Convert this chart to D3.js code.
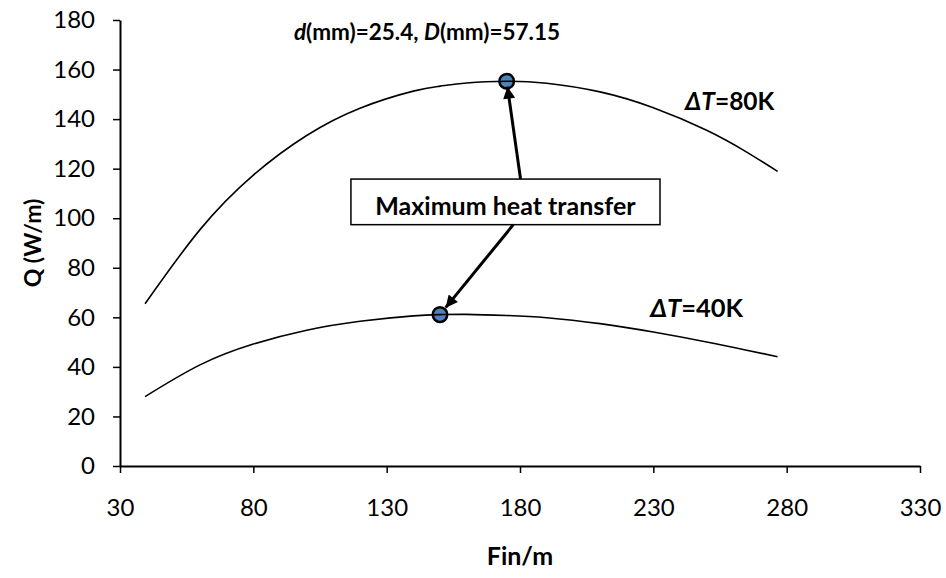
<!DOCTYPE html>
<html>
<head>
<meta charset="utf-8">
<script src="https://cdn.jsdelivr.net/npm/d3@7"></script>
<style>
  html, body { margin: 0; padding: 0; background: #fff; }
  svg { display: block; }
  text { font-family: Lato, "Noto Sans", sans-serif; fill: #000; }
</style>
</head>
<body>
<svg id="chart" width="946" height="578"></svg>
<script>
// Fin density (fins per metre) at which Q was evaluated
const finsPerMetre = [39.4, 60, 80, 100, 120, 140, 150, 160, 175, 190, 210, 230, 250, 265, 276.6];
// Heat transfer rate Q (W/m) for ΔT = 80 K
const q80 = [65.5, 95.4, 117.4, 133.4, 144.4, 151.3, 153.3, 154.6, 155.3, 154.5, 151.0, 144.6, 135.5, 126.7, 118.9];
// Heat transfer rate Q (W/m) for ΔT = 40 K
const q40 = [28, 40.8, 49.2, 54.8, 58.4, 60.6, 61.1, 61.2, 60.75, 59.85, 57.45, 54.05, 50.05, 46.75, 44.1];
// Optimum points (maximum heat transfer)
const optimumFins = [175, 150];
const optimumQ = [155.3, 61.1];
// Axis ticks
const xTicks = [30, 80, 130, 180, 230, 280, 330];
const yTicks = [0, 20, 40, 60, 80, 100, 120, 140, 160, 180];

const svg = d3.select("#chart");
const margin = { left: 120, top: 20, right: 26, bottom: 112 };
const W = 946, H = 578;

const x = d3.scaleLinear().domain([30, 330]).range([margin.left, W - margin.right]);
const y = d3.scaleLinear().domain([0, 180]).range([H - margin.bottom, margin.top]);

// Axes
const yAxis = d3.axisLeft(y).tickValues(yTicks).tickSize(7).tickSizeOuter(0).tickPadding(18);
const xAxis = d3.axisBottom(x).tickValues(xTicks).tickSize(7).tickSizeOuter(0).tickPadding(26);

const gy = svg.append("g").attr("transform", `translate(${x(30)},0)`).call(yAxis);
const gx = svg.append("g").attr("transform", `translate(0,${y(0)})`).call(xAxis);
[gx, gy].forEach(g => {
  g.select(".domain").attr("stroke", "#000").attr("stroke-width", 2);
  g.selectAll(".tick line").attr("stroke", "#000").attr("stroke-width", 1.5);
  g.selectAll(".tick text").attr("font-size", 24).attr("font-family", "Lato, 'Noto Sans', sans-serif").attr("fill", "#000");
});

// Axis titles
svg.append("text")
  .attr("x", (x(30) + x(330)) / 2).attr("y", 565)
  .attr("text-anchor", "middle").attr("font-size", 25).attr("font-weight", "bold")
  .text("Fin/m");
svg.append("text")
  .attr("transform", `translate(41,${(y(0) + y(180)) / 2}) rotate(-90)`)
  .attr("text-anchor", "middle").attr("font-size", 23).attr("font-weight", "bold")
  .text("Q (W/m)");

// Title with italic symbols
const title = svg.append("text")
  .attr("x", 427).attr("y", 40)
  .attr("text-anchor", "middle").attr("font-size", 22.5).attr("font-weight", "bold");
title.append("tspan").attr("font-style", "italic").text("d");
title.append("tspan").text("(mm)=25.4, ");
title.append("tspan").attr("font-style", "italic").text("D");
title.append("tspan").text("(mm)=57.15");

// Optimum markers (curves drawn over them)
svg.selectAll("circle.opt")
  .data(optimumFins.map((f, i) => ({ f, q: optimumQ[i] })))
  .join("circle")
  .attr("class", "opt")
  .attr("cx", d => x(d.f)).attr("cy", d => y(d.q))
  .attr("r", 7.3)
  .attr("fill", "#4F81BD").attr("stroke", "#000").attr("stroke-width", 2.5);

// Curves
const line = d3.line().x(d => x(d[0])).y(d => y(d[1])).curve(d3.curveNatural);
[q80, q40].forEach(series => {
  svg.append("path")
    .datum(finsPerMetre.map((f, i) => [f, series[i]]))
    .attr("fill", "none").attr("stroke", "#000").attr("stroke-width", 1.6)
    .attr("d", line);
});

// Series labels
function seriesLabel(fx, qy, kelvin, size) {
  const t = svg.append("text").attr("x", x(fx)).attr("y", y(qy))
    .attr("font-size", size).attr("font-weight", "bold");
  t.append("tspan").attr("font-style", "italic").text("ΔT");
  t.append("tspan").text("=" + kelvin + "K");
}
seriesLabel(241.9, 143.7, 80, 24.5);
seriesLabel(228.8, 60.3, 40, 25.5);

// Annotation box
const boxL = 116.6, boxR = 232.5, boxT = 115.8, boxB = 97.4;
svg.append("rect")
  .attr("x", x(boxL)).attr("y", y(boxT))
  .attr("width", x(boxR) - x(boxL)).attr("height", y(boxB) - y(boxT))
  .attr("fill", "#fff").attr("stroke", "#000").attr("stroke-width", 1.5);
svg.append("text")
  .attr("x", (x(boxL) + x(boxR)) / 2).attr("y", y(boxB) - 10)
  .attr("text-anchor", "middle").attr("font-size", 25).attr("font-weight", "bold")
  .text("Maximum heat transfer");

// Arrows from the box to the optimum points
svg.append("defs").append("marker")
  .attr("id", "head").attr("markerUnits", "userSpaceOnUse")
  .attr("viewBox", "0 0 12 12").attr("refX", 12).attr("refY", 6)
  .attr("markerWidth", 14).attr("markerHeight", 12).attr("orient", "auto")
  .append("path").attr("d", "M0,0 L12,6 L0,12 Z").attr("fill", "#000");

function arrow(fromF, fromQ, toF, toQ, gap) {
  const x0 = x(fromF), y0 = y(fromQ), x1 = x(toF), y1 = y(toQ);
  const len = Math.hypot(x1 - x0, y1 - y0);
  const ex = x1 - (x1 - x0) / len * gap, ey = y1 - (y1 - y0) / len * gap;
  svg.append("line")
    .attr("x1", x0).attr("y1", y0).attr("x2", ex).attr("y2", ey)
    .attr("stroke", "#000").attr("stroke-width", 3)
    .attr("marker-end", "url(#head)");
}
arrow(180.2, boxT, optimumFins[0], optimumQ[0], 5.5);
arrow(177.5, boxB, optimumFins[1], optimumQ[1], 9);
</script>
</body>
</html>
